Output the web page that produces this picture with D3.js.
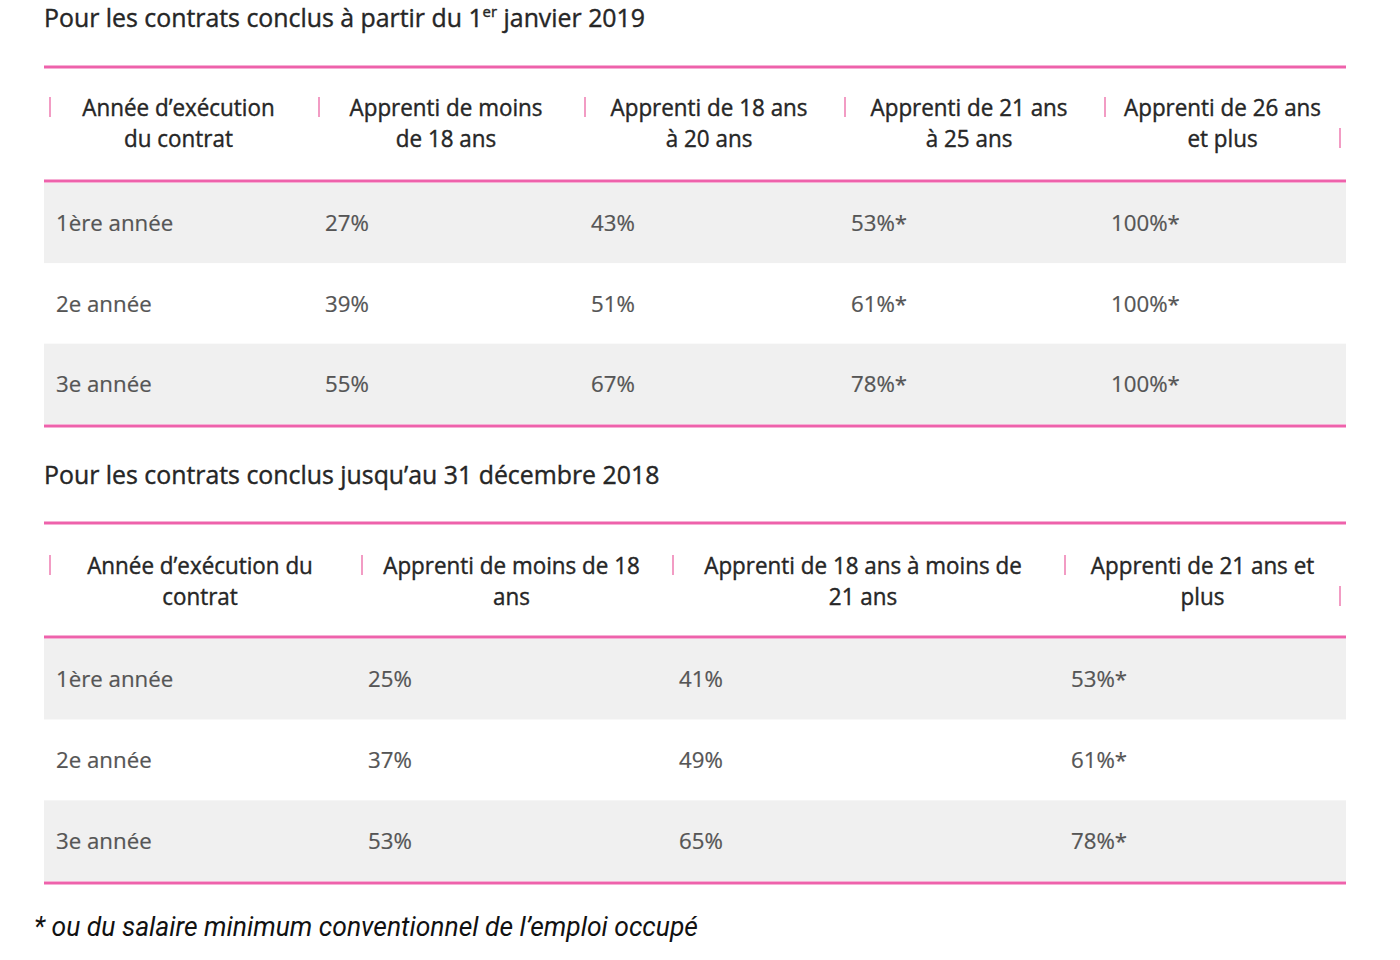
<!DOCTYPE html>
<html>
<head>
<meta charset="utf-8">
<script src="https://cdn.jsdelivr.net/npm/d3@7"></script>
<style>
  body { margin: 0; background: #fff; }
</style>
</head>
<body>
<div id="chart"></div>
<script>
// data
var years = ["1ère année", "2e année", "3e année"];

var headers2019 = [
  ["Année d’exécution", "du contrat"],
  ["Apprenti de moins", "de 18 ans"],
  ["Apprenti de 18 ans", "à 20 ans"],
  ["Apprenti de 21 ans", "à 25 ans"],
  ["Apprenti de 26 ans", "et plus"]
];
var values2019 = [
  [27, 43, 53, 100],
  [39, 51, 61, 100],
  [55, 67, 78, 100]
];
var star2019 = [false, false, true, true];

var headers2018 = [
  ["Année d’exécution du", "contrat"],
  ["Apprenti de moins de 18", "ans"],
  ["Apprenti de 18 ans à moins de", "21 ans"],
  ["Apprenti de 21 ans et", "plus"]
];
var values2018 = [
  [25, 41, 53],
  [37, 49, 61],
  [53, 65, 78]
];
var star2018 = [false, false, true];

var footnote = "* ou du salaire minimum conventionnel de l’emploi occupé";

// layout
var W = 1400, H = 960;
var left = 44, right = 1346;
var pink = "#ee62ab", pipePink = "#f29cc4", rowGray = "#f0f0f0";
var ink = "#262626";

var svg = d3.select("#chart").append("svg")
  .attr("width", W)
  .attr("height", H)
  .style("font-family", "'Open Sans', sans-serif");

var pct = d3.format("d");

// the source picture is squeezed / stretched a bit differently per text kind
function squeezed(sel, x, y, sx) {
  return sel.attr("transform", "translate(" + x + "," + y + ") scale(" + sx + ",1)");
}

function drawTable(cfg) {
  var g = svg.append("g");
  var nCols = cfg.headers.length;

  // column edges
  var colX = d3.scaleOrdinal().domain(d3.range(nCols + 1)).range(cfg.edges.concat([right]));

  var y = d3.scaleBand()
    .domain(years)
    .range([cfg.headLine + 2, cfg.bottom])
    .paddingInner(0);

  // title
  var t = g.append("text")
    .style("font-size", "25px")
    .style("fill", ink)
    .style("stroke", ink)
    .style("stroke-width", 0.4);
  squeezed(t, left, cfg.titleY, 0.995);
  t.selectAll("tspan")
    .data(cfg.title)
    .enter().append("tspan")
    .attr("baseline-shift", function(d) { return d.sup ? "super" : null; })
    .style("font-size", function(d) { return d.sup ? "15px" : null; })
    .text(function(d) { return d.t; });

  // striped rows
  g.selectAll("rect.row")
    .data(years)
    .enter().append("rect")
    .attr("class", "row")
    .attr("x", left)
    .attr("width", right - left)
    .attr("y", function(d) { return y(d); })
    .attr("height", y.bandwidth())
    .style("fill", function(d, i) { return i % 2 == 0 ? rowGray : "#fff"; });

  // pink rules
  g.selectAll("line.rule")
    .data([cfg.top, cfg.headLine, cfg.bottom + 2])
    .enter().append("line")
    .attr("class", "rule")
    .attr("x1", left).attr("x2", right)
    .attr("y1", function(d) { return d; })
    .attr("y2", function(d) { return d; })
    .style("stroke", pink)
    .style("stroke-width", 3);

  // header pipes
  var pipeY = [cfg.headY1 - 19, cfg.headY1 + 1];
  g.selectAll("line.pipe")
    .data(d3.range(nCols))
    .enter().append("line")
    .attr("class", "pipe")
    .attr("x1", function(i) { return colX(i); })
    .attr("x2", function(i) { return colX(i); })
    .attr("y1", pipeY[0]).attr("y2", pipeY[1])
    .style("stroke", pipePink)
    .style("stroke-width", 2);
  g.append("line")
    .attr("x1", right - 6).attr("x2", right - 6)
    .attr("y1", pipeY[0] + (cfg.headY2 - cfg.headY1))
    .attr("y2", pipeY[1] + (cfg.headY2 - cfg.headY1))
    .style("stroke", pipePink)
    .style("stroke-width", 2);

  // header labels
  var heads = g.selectAll("g.head")
    .data(cfg.headers)
    .enter().append("g")
    .attr("class", "head");
  heads.each(function(lines, i) {
    var cx = (colX(i) + colX(i + 1)) / 2 - (i == nCols - 1 ? 3 : 6);
    lines.forEach(function(l, k) {
      var txt = d3.select(this).append("text")
        .attr("text-anchor", "middle")
        .style("font-size", "23px")
        .style("fill", ink)
        .style("stroke", ink)
        .style("stroke-width", 0.4)
        .text(l);
      squeezed(txt, cx, k == 0 ? cfg.headY1 : cfg.headY2, 0.975);
    }, this);
  });

  // first column: year labels
  g.selectAll("text.year")
    .data(years)
    .enter().append("text")
    .attr("class", "year")
    .each(function(d) {
      squeezed(d3.select(this), colX(0) + 6, y(d) + y.bandwidth() / 2 + 8, 1.06);
    })
    .style("font-size", "21px")
    .style("fill", "#555")
    .style("stroke", "#555")
    .style("stroke-width", 0.2)
    .text(function(d) { return d; });

  // value cells
  var cells = [];
  cfg.values.forEach(function(row, r) {
    row.forEach(function(v, c) {
      cells.push({ year: years[r], col: c + 1, v: v, star: cfg.star[c] });
    });
  });
  g.selectAll("text.cell")
    .data(cells)
    .enter().append("text")
    .attr("class", "cell")
    .each(function(d) {
      squeezed(d3.select(this), colX(d.col) + 6, y(d.year) + y.bandwidth() / 2 + 8, 1.06);
    })
    .style("font-size", "21px")
    .style("fill", "#555")
    .style("stroke", "#555")
    .style("stroke-width", 0.2)
    .text(function(d) { return pct(d.v) + "%" + (d.star ? "*" : ""); });
}

drawTable({
  title: [{ t: "Pour les contrats conclus à partir du 1" }, { t: "er", sup: true }, { t: " janvier 2019" }],
  titleY: 27,
  top: 67,
  headY1: 116,
  headY2: 147,
  headLine: 181,
  bottom: 424,
  edges: [50, 319, 585, 845, 1105],
  headers: headers2019,
  values: values2019,
  star: star2019
});

drawTable({
  title: [{ t: "Pour les contrats conclus jusqu’au 31 décembre 2018" }],
  titleY: 484,
  top: 523,
  headY1: 574,
  headY2: 605,
  headLine: 637,
  bottom: 881,
  edges: [50, 362, 673, 1065],
  headers: headers2018,
  values: values2018,
  star: star2018
});

// footnote
var fn = svg.append("text")
  .style("font-family", "Roboto, sans-serif")
  .style("font-style", "italic")
  .style("font-size", "27px")
  .style("fill", "#111")
  .text(footnote);
squeezed(fn, 34, 936, 0.98);
</script>
</body>
</html>
